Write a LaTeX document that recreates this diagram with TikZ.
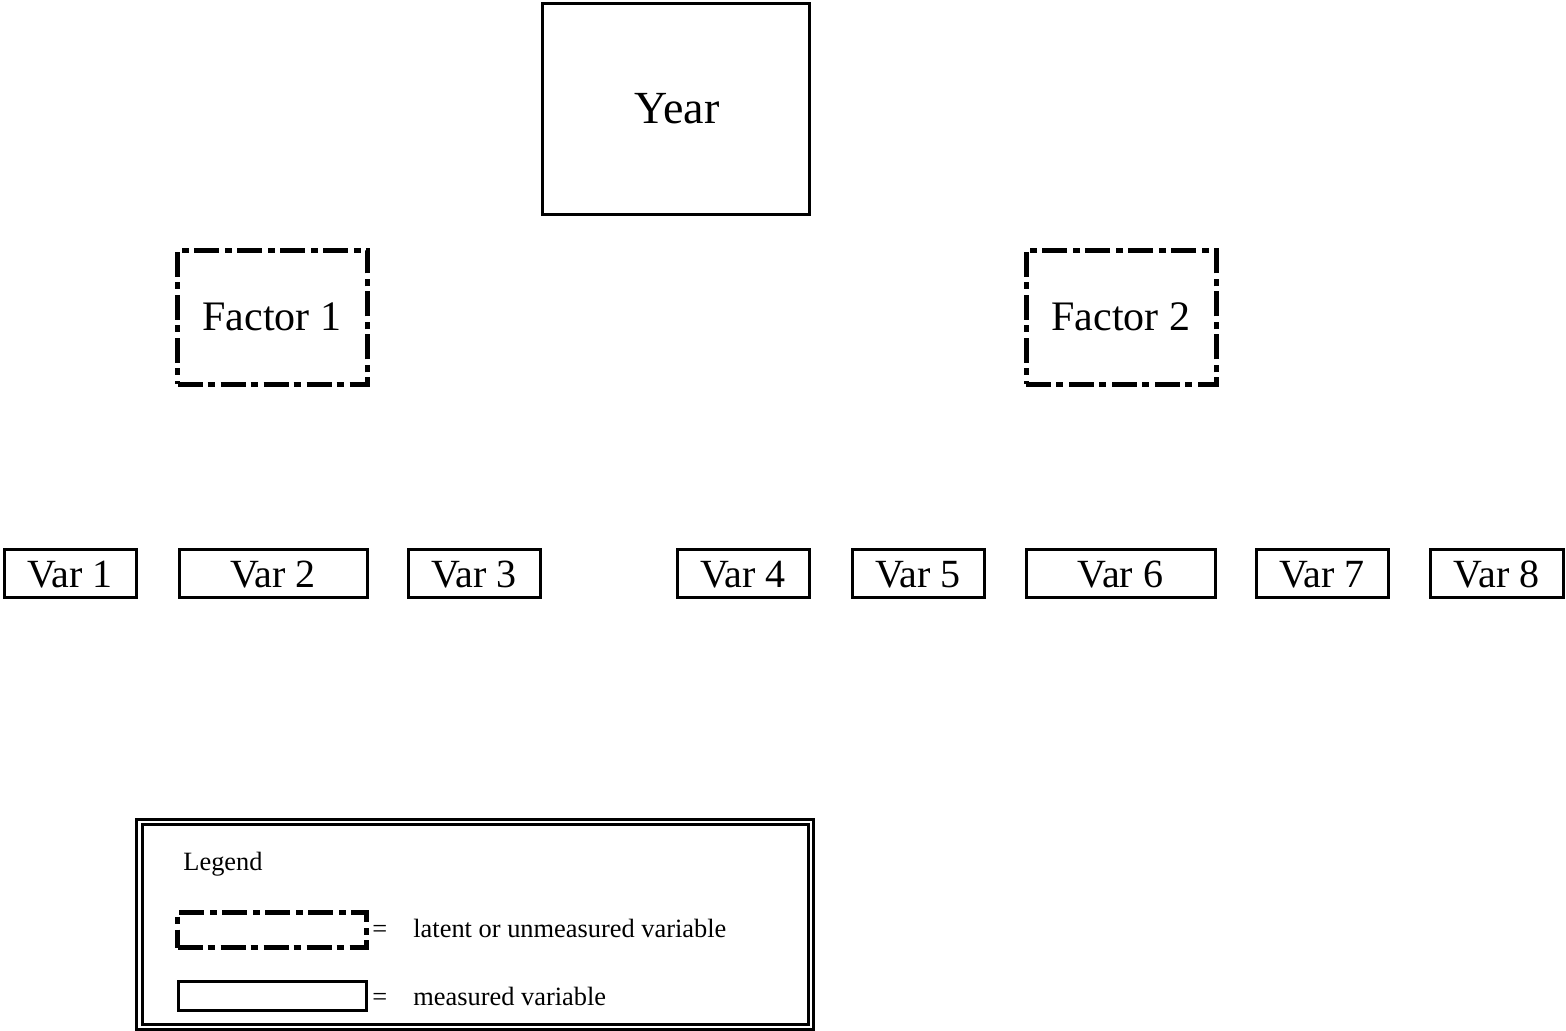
\documentclass[tikz,border=0pt]{standalone}
\usepackage{fontspec}
\setmainfont{Liberation Serif}
\begin{document}
\begin{tikzpicture}[x=0.5pt,y=-0.5pt,
  solidbox/.style={draw=black, line width=1.5pt, rectangle, inner sep=0pt, fill=white},
  latentbox/.style={draw=black, line width=2.5pt, rectangle, inner sep=0pt,
     dash pattern=on 12.5pt off 2.5pt on 3.5pt off 3pt},
  lbl/.style={anchor=base, inner sep=0pt},
  vartxt/.style={lbl, font=\fontsize{20}{24}\selectfont},
  factxt/.style={lbl, font=\fontsize{21}{25}\selectfont},
  smalltxt/.style={anchor=base west, inner sep=0pt, font=\fontsize{13.2}{15}\selectfont}]
\useasboundingbox (0,0) rectangle (1566,1031);
% top
\node[solidbox, minimum width=133.5pt, minimum height=105.5pt] (year) at (676,109) {};
\node[lbl, font=\fontsize{23}{27}\selectfont] (yeartxt) at (677,124) {Year};
% factors
\node[latentbox, minimum width=95pt, minimum height=67pt] (f1) at (272.5,317.5) {};
\node[factxt] (f1txt) at (272,331) {Factor 1};
\node[latentbox, minimum width=95pt, minimum height=67pt] (f2) at (1121,317.5) {};
\node[factxt] (f2txt) at (1121,331) {Factor 2};
% variables
\node[solidbox, minimum width=66pt, minimum height=24pt] (v1) at (70,573) {};
\node[solidbox, minimum width=94pt, minimum height=24pt] (v2) at (273,573) {};
\node[solidbox, minimum width=66pt, minimum height=24pt] (v3) at (474,573) {};
\node[solidbox, minimum width=66pt, minimum height=24pt] (v4) at (743,573) {};
\node[solidbox, minimum width=66pt, minimum height=24pt] (v5) at (918,573) {};
\node[solidbox, minimum width=94.5pt, minimum height=24pt] (v6) at (1120.5,573) {};
\node[solidbox, minimum width=66pt, minimum height=24pt] (v7) at (1322,573) {};
\node[solidbox, minimum width=66.5pt, minimum height=24pt] (v8) at (1496.5,573) {};
\node[vartxt] (v1t) at (v1.center |- 0,587) {Var 1};
\node[vartxt] (v2t) at (v2.center |- 0,587) {Var 2};
\node[vartxt] (v3t) at (v3.center |- 0,587) {Var 3};
\node[vartxt] (v4t) at (v4.center |- 0,587) {Var 4};
\node[vartxt] (v5t) at (v5.center |- 0,587) {Var 5};
\node[vartxt] (v6t) at (v6.center |- 0,587) {Var 6};
\node[vartxt] (v7t) at (v7.center |- 0,587) {Var 7};
\node[vartxt] (v8t) at (v8.center |- 0,587) {Var 8};
% legend
\node[draw=black, line width=1.5pt, double, double distance=1.25pt, rectangle, inner sep=0pt,
      minimum width=335.75pt, minimum height=102.4pt] (legend) at (475,924.6) {};
\node[smalltxt] (legtitle) at (183,870) {Legend};
\node[latentbox, minimum width=94.5pt, minimum height=17.5pt] (leglat) at (272,930) {};
\node[smalltxt] (eq1) at (372,937) {=};
\node[smalltxt] (latlbl) at (413,937) {latent or unmeasured variable};
\node[solidbox, minimum width=94pt, minimum height=14.5pt] (legmeas) at (272.5,996) {};
\node[smalltxt] (eq2) at (372,1005) {=};
\node[smalltxt] (measlbl) at (413,1005) {measured variable};
\end{tikzpicture}
\end{document}
